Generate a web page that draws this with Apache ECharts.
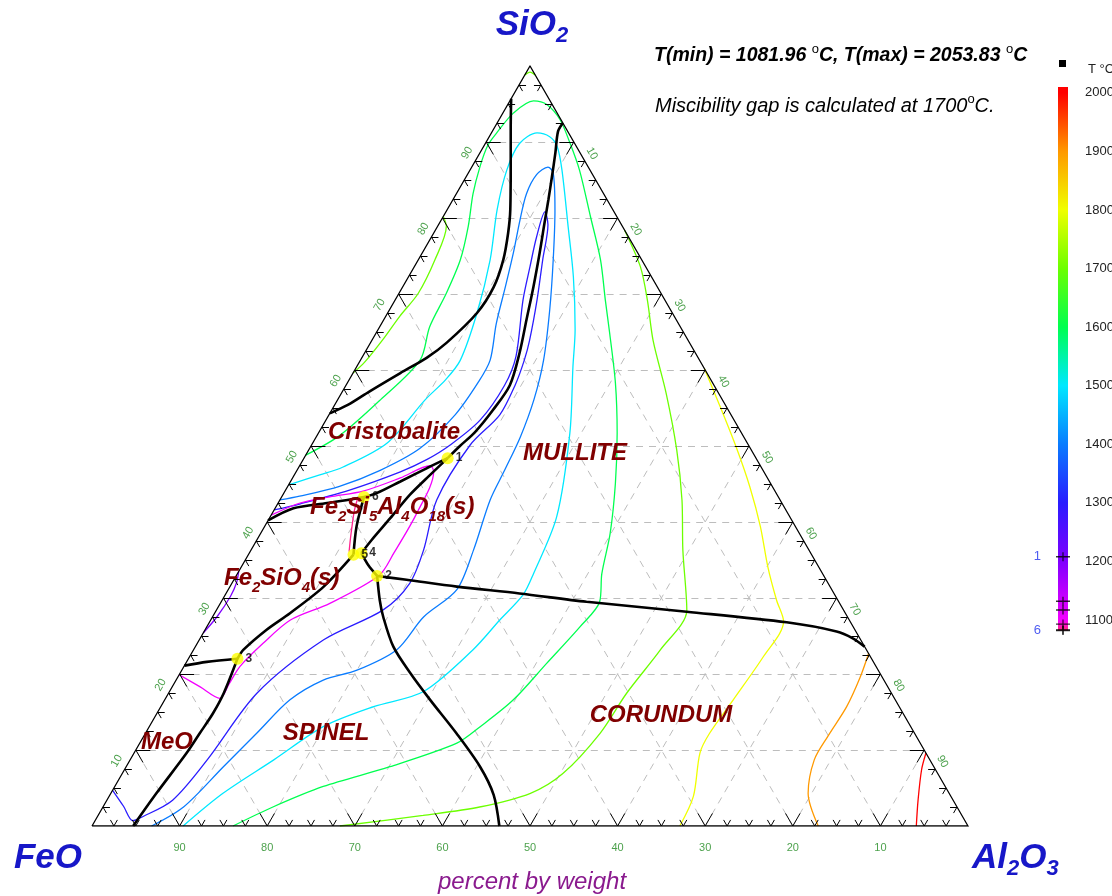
<!DOCTYPE html>
<html>
<head>
<meta charset="utf-8">
<title>FeO - SiO2 - Al2O3 liquidus projection</title>
<script src="https://cdn.jsdelivr.net/npm/echarts@6/dist/echarts.min.js"></script>
<style>
  html, body { margin: 0; padding: 0; background: #ffffff; }
  #chart { width: 1112px; height: 896px; }
</style>
</head>
<body>
<div id="chart"></div>
<script>
// Compositions are weight % written as [SiO2, Al2O3]; FeO is the balance.

// ---------- frame ----------
const gridLevels = [10, 20, 30, 40, 50, 60, 70, 80, 90];
const tickStep = 2.5;
const tickLabelValues = [10, 20, 30, 40, 50, 60, 70, 80, 90];
const leftTickLabels = ['10', '20', '30', '40', '50', '60', '70', '80', '90'];   // SiO2 along FeO-SiO2
const rightTickLabels = ['10', '20', '30', '40', '50', '60', '70', '80', '90'];  // Al2O3 along SiO2-Al2O3
const bottomTickLabels = ['90', '80', '70', '60', '50', '40', '30', '20', '10']; // FeO along FeO-Al2O3

// ---------- phase boundaries ----------
const bndSilicaGap = [[95.7, 0], [92.0, 1.8], [87.6, 4.0], [81.1, 7.2], [78.0, 8.5], [74.5, 9.7], [70.9, 10.4],
  [67.5, 10.2], [63.6, 8.7], [61.6, 7.4], [59.6, 5.4], [57.2, 3.1], [55.4, 1.5], [54.3, 0]];
const bndSilicaMullite = [[92.5, 7.5], [91.4, 7.5], [88.6, 8.6], [85.4, 9.8], [82.4, 10.9], [79.3, 12.0], [75.4, 13.4],
  [71.0, 14.9], [66.6, 16.3], [62.2, 17.7], [58.0, 18.7], [54.7, 18.4], [51.8, 17.8], [50.0, 17.0], [48.4, 16.4]];
const bnd1to6toEdge = [[48.4, 16.4], [47.1, 14.7], [45.3, 12.5], [43.8, 10.6], [43.3, 9.4], [42.5, 5.6], [41.8, 2.1], [40.2, 0]];
const bnd6to5 = [[43.3, 9.4], [39.4, 10.5], [35.7, 12.0]];
const bnd1to4 = [[48.4, 16.4], [46.2, 15.5], [43.6, 14.5], [40.5, 13.8], [37.6, 13.1], [35.9, 12.8]];
const bnd4to2 = [[35.9, 12.8], [34.3, 14.4], [32.9, 16.1]];
const bnd2toEdge = [[32.9, 16.1], [32.4, 19.7], [31.5, 25.9], [30.6, 33.5], [29.5, 41.7], [28.2, 53.8], [26.8, 65.9],
  [25.6, 72.2], [24.7, 74.5], [23.6, 76.4]];
const bnd2toBase = [[32.9, 16.1], [29.7, 18.0], [27.5, 19.5], [23.6, 22.6], [20.1, 26.3], [16.6, 30.3], [12.2, 35.5],
  [7.8, 40.4], [4.1, 43.8], [0, 46.5]];
const bnd5to3 = [[35.7, 12.0], [31.5, 10.7], [28.0, 8.6], [25.8, 7.0], [23.2, 5.7], [22.0, 5.6]];
const bnd3toEdge = [[22.0, 5.6], [21.6, 2.3], [21.1, 0]];
const bnd3toBase = [[22.0, 5.6], [17.5, 6.3], [14.8, 6.4], [12.2, 6.2], [9.6, 6.0], [4.3, 5.2], [0, 4.7]];

// ---------- invariant points ----------
const invNames = ['1', '2', '3', '4', '5', '6'];
const invComp = [[48.4, 16.4], [32.9, 16.1], [22.0, 5.6], [35.9, 12.8], [35.7, 12.0], [43.3, 9.4]];
const invTemps = [1208, 1132, 1117, 1093, 1083, 1082];

// ---------- liquidus isotherms (deg C) ----------
const iso2000 = [[9.6, 90.4], [7.4, 91.0], [3.4, 92.6], [0, 94.1]];
const iso1900 = [[22.7, 77.3], [19.6, 77.9], [15.7, 78.3], [11.8, 78.1], [8.7, 78.1], [4.3, 79.6], [0, 82.9]];
const iso1800 = [[60.2, 39.8], [55.2, 44.1], [49.5, 48.9], [44.6, 52.8], [39.4, 56.6], [34.1, 60.1], [29.7, 63.3],
  [26.9, 65.5], [22.3, 65.5], [16.6, 64.9], [12.2, 64.4], [9.6, 64.6], [3.9, 66.7], [0, 67.1]];
const iso1700 = [[78.4, 21.6], [73.6, 25.8], [69.2, 28.8], [63.9, 32.1], [56.9, 37.1], [49.5, 42.0], [42.9, 45.9],
  [36.3, 49.3], [28.4, 53.7], [23.2, 53.3], [17.5, 52.3], [12.2, 51.9], [6.9, 50.3], [4.3, 47.9], [2.5, 43.0],
  [1.4, 37.1], [0, 28.3]];
const iso1700Gap = [[80.2, 0], [78.9, 1.0], [74.5, 1.9], [70.1, 2.2], [67.1, 1.6], [64.0, 1.2], [61.0, 0.6], [59.6, 0]];
const iso1700Apex = [[98.8, 0], [99.2, 0.4], [98.8, 1.2]];
const iso1600 = [[48.8, 0], [51.4, 2.6], [56.1, 4.9], [61.3, 6.8], [65.7, 5.7], [70.1, 5.4], [74.5, 4.8], [78.9, 3.5],
  [83.2, 1.9], [86.8, 0.9], [89.6, 0.4], [91.2, 0.6], [93.8, 1.2], [95.4, 2.7], [94.9, 4.5], [92.9, 7.0], [89.9, 9.6],
  [86.3, 12.5], [80.2, 16.8], [74.5, 20.8], [69.2, 24.0], [64.8, 26.7], [58.3, 30.6], [51.7, 34.1], [45.1, 37.2],
  [38.5, 39.9], [33.2, 41.6], [29.5, 43.2], [26.2, 42.6], [21.4, 41.2], [16.6, 39.8], [13.1, 37.8], [10.9, 36.2],
  [7.8, 30.1], [5.2, 23.8], [2.5, 19.4], [0, 16.1]];
const iso1500 = [[44.9, 0], [46.2, 2.9], [47.2, 5.0], [50.4, 8.5], [56.1, 10.0], [58.7, 11.0], [61.3, 11.4],
  [67.5, 10.2], [74.5, 8.2], [81.1, 5.7], [86.3, 4.2], [89.8, 3.9], [91.2, 5.2], [90.7, 6.9], [89.4, 8.4],
  [86.3, 10.5], [78.9, 14.9], [72.3, 18.8], [65.3, 22.5], [60.4, 24.7], [51.7, 28.7], [40.7, 32.7], [33.2, 33.8],
  [30.4, 34.0], [27.1, 33.0], [23.2, 31.9], [17.7, 29.0], [15.7, 24.3], [13.1, 19.9], [8.7, 16.4], [4.3, 12.8], [0, 10.4]];
const iso1400 = [[42.9, 0], [43.4, 2.0], [44.7, 5.9], [46.8, 9.5], [49.7, 12.6], [54.1, 14.4], [58.4, 14.9],
  [61.3, 14.8], [66.1, 13.1], [71.0, 11.7], [75.4, 10.4], [79.7, 9.0], [83.2, 8.0], [85.7, 7.9], [86.7, 8.7],
  [85.9, 9.7], [81.1, 12.3], [74.5, 15.4], [67.9, 18.3], [61.3, 20.9], [56.1, 22.4], [51.2, 23.3], [46.8, 23.7],
  [42.9, 24.0], [36.3, 25.4], [31.1, 26.1], [27.5, 24.1], [23.2, 23.2], [20.5, 20.0], [19.2, 16.8], [16.6, 14.3],
  [12.2, 12.7], [7.8, 11.1], [2.5, 9.2], [0, 6.8]];
const iso1300 = [[4.7, 0], [2.6, 2.3], [0.7, 4.3], [1.1, 5.0], [3.4, 7.5], [8.7, 8.8], [17.5, 10.1], [24.5, 14.2],
  [28.4, 19.0], [31.9, 20.3], [36.3, 19.7], [42.9, 17.9], [50.1, 18.1], [54.1, 19.5], [58.0, 19.3], [61.3, 18.7],
  [63.9, 18.0], [69.2, 16.2], [74.5, 14.2], [79.1, 12.5], [80.8, 11.3], [77.5, 12.0], [73.6, 13.2], [69.2, 14.6],
  [61.8, 17.5], [58.0, 18.1], [53.4, 17.6], [50.1, 15.8], [48.2, 14.1], [46.6, 11.9], [44.2, 7.3], [42.4, 2.6], [41.6, 0]];
const iso1100 = [[40.9, 0], [42.5, 2.5], [43.3, 5.5], [44.1, 9.0], [45.8, 12.3], [47.4, 14.9], [46.6, 15.7],
  [41.1, 16.5], [35.9, 16.5], [33.0, 16.3], [29.3, 12.5], [27.1, 9.1], [24.0, 7.5], [21.0, 6.4], [18.7, 6.3],
  [16.8, 6.2], [18.3, 3.2], [19.9, 0]];
const iso1200Fayalite = [[25.4, 0], [27.5, 0.5], [30.2, 0.7], [32.0, 0.5], [33.5, 0]];
const iso1085 = [[43.0, 8.8], [41.5, 9.2], [39.6, 9.9], [37.8, 10.6], [36.1, 11.3]];

// ---------- temperature scale ----------
const tempScaleMin = 1082;
const tempScaleMax = 2010;
const tempScaleLabels = [1100, 1200, 1300, 1400, 1500, 1600, 1700, 1800, 1900, 2000];
const paletteTemps = [1082, 1092, 1100, 1200, 1300, 1400, 1500, 1600, 1700, 1800, 1900, 2000, 2010];
const paletteColors = ['#ff2a70', '#ff10d0', '#f400ff', '#8000ff', '#2a1cff', '#0a7cff', '#00e8ff', '#00ff50',
  '#6cff00', '#f0ff00', '#ff9900', '#ff0000', '#ff0000'];

// ---------- helpers ----------
const FONT = '"Liberation Sans", Arial, Helvetica, sans-serif';
function toXY(c) { return [c[1] + c[0] / 2, c[0]]; }

function hexToRgb(h) {
  return [parseInt(h.slice(1, 3), 16), parseInt(h.slice(3, 5), 16), parseInt(h.slice(5, 7), 16)];
}
function tempColor(t) {
  if (t <= paletteTemps[0]) return paletteColors[0];
  for (let i = 1; i < paletteTemps.length; i++) {
    if (t <= paletteTemps[i]) {
      const f = (t - paletteTemps[i - 1]) / (paletteTemps[i] - paletteTemps[i - 1]);
      const a = hexToRgb(paletteColors[i - 1]), b = hexToRgb(paletteColors[i]);
      const c = a.map((v, k) => Math.round(v + (b[k] - v) * f));
      return 'rgb(' + c.join(',') + ')';
    }
  }
  return paletteColors[paletteColors.length - 1];
}

const isotherms = [
  [2000, iso2000], [1900, iso1900], [1800, iso1800], [1700, iso1700], [1700, iso1700Gap], [1700, iso1700Apex],
  [1600, iso1600], [1500, iso1500], [1400, iso1400], [1300, iso1300], [1200, iso1200Fayalite], [1100, iso1100],
  [1085, iso1085]
];
const boundaries = [bndSilicaGap, bndSilicaMullite, bnd1to6toEdge, bnd6to5, bnd1to4, bnd4to2,
  bnd2toEdge, bnd2toBase, bnd5to3, bnd3toEdge, bnd3toBase];

// frame segments
const gridSegs = [];
gridLevels.forEach(function (v) {
  gridSegs.push({ coords: [toXY([v, 0]), toXY([v, 100 - v])] });
  gridSegs.push({ coords: [toXY([0, v]), toXY([100 - v, v])] });
  gridSegs.push({ coords: [toXY([0, 100 - v]), toXY([100 - v, 0])] });
});
const tickSegs = [];
for (let k = 1; k * tickStep < 100; k++) {
  const v = k * tickStep;
  const L = (k % 4 === 0) ? 1.65 : 0.8;
  tickSegs.push({ coords: [toXY([v, 0]), toXY([v, L])] });
  tickSegs.push({ coords: [toXY([v, 0]), toXY([v - L, L])] });
  tickSegs.push({ coords: [toXY([0, v]), toXY([L, v - L])] });
  tickSegs.push({ coords: [toXY([0, v]), toXY([L, v])] });
  tickSegs.push({ coords: [toXY([100 - v, v]), toXY([100 - v, v - L])] });
  tickSegs.push({ coords: [toXY([100 - v, v]), toXY([100 - v - L, v])] });
}
const edgeSeg = [{ coords: [toXY([0, 0]), toXY([0, 100]), toXY([100, 0]), toXY([0, 0])] }];

const tickLabelData = [];
tickLabelValues.forEach(function (v, i) {
  tickLabelData.push({ value: toXY([v, 0]), label: { formatter: leftTickLabels[i], rotate: 60, offset: [-19, -11] } });
  tickLabelData.push({ value: toXY([100 - v, v]), label: { formatter: rightTickLabels[i], rotate: -60, offset: [19, -10] } });
  tickLabelData.push({ value: toXY([0, v]), label: { formatter: bottomTickLabels[i], offset: [0, 22] } });
});

const series = [];
series.push({
  type: 'lines', coordinateSystem: 'cartesian2d', xAxisIndex: 0, yAxisIndex: 0, silent: true, z: 1,
  data: gridSegs, lineStyle: { color: '#bdbdbd', width: 1, type: [7, 6], opacity: 1 }
});
isotherms.forEach(function (it) {
  series.push({
    type: 'line', xAxisIndex: 0, yAxisIndex: 0, silent: true, z: 3, symbol: 'none', smooth: 0.3,
    data: it[1].map(toXY), lineStyle: { color: tempColor(it[0]), width: 1.3 }
  });
});
boundaries.forEach(function (b) {
  series.push({
    type: 'line', xAxisIndex: 0, yAxisIndex: 0, silent: true, z: 4, symbol: 'none', smooth: 0.3,
    data: b.map(toXY), lineStyle: { color: '#000000', width: 2.6 }
  });
});
series.push({
  type: 'lines', coordinateSystem: 'cartesian2d', xAxisIndex: 0, yAxisIndex: 0, silent: true, z: 5,
  data: tickSegs, lineStyle: { color: '#000000', width: 1, opacity: 1 }
});
series.push({
  type: 'lines', coordinateSystem: 'cartesian2d', polyline: true, xAxisIndex: 0, yAxisIndex: 0, silent: true, z: 5,
  data: edgeSeg, lineStyle: { color: '#000000', width: 1.3, opacity: 1 }
});
series.push({
  type: 'scatter', xAxisIndex: 0, yAxisIndex: 0, silent: true, z: 6, symbolSize: 1,
  itemStyle: { color: 'rgba(0,0,0,0)' }, data: tickLabelData,
  label: { show: true, position: 'inside', color: '#1f8a1f', fontSize: 11, fontFamily: FONT }
});
series.push({
  type: 'scatter', xAxisIndex: 0, yAxisIndex: 0, silent: true, z: 7, symbolSize: 12,
  itemStyle: { color: '#ffff00' },
  data: invComp.map(function (c, i) { return { name: invNames[i], value: toXY(c) }; }),
  label: { show: true, position: 'right', distance: 2, formatter: '{b}', color: '#000', fontWeight: 'bold', fontSize: 12, fontFamily: FONT }
});

// colour scale
const scaleStops = paletteTemps.map(function (t, i) {
  return { offset: (tempScaleMax - t) / (tempScaleMax - tempScaleMin), color: paletteColors[i] };
}).reverse();
series.push({
  type: 'custom', xAxisIndex: 1, yAxisIndex: 1, silent: true, z: 2, data: [[0, tempScaleMin]],
  renderItem: function (params, api) {
    const p0 = api.coord([0, tempScaleMax]);
    const p1 = api.coord([1, tempScaleMin]);
    return {
      type: 'rect', shape: { x: p0[0], y: p0[1], width: p1[0] - p0[0], height: p1[1] - p0[1] },
      style: { fill: new echarts.graphic.LinearGradient(0, 0, 0, 1, scaleStops) }
    };
  }
});
series.push({
  type: 'scatter', xAxisIndex: 1, yAxisIndex: 1, silent: true, z: 6,
  symbol: 'path://M0,3.4L14,3.4L14,4.6L0,4.6Z M6.4,0L7.6,0L7.6,8L6.4,8Z', symbolSize: [14, 9],
  itemStyle: { color: '#000' },
  data: invTemps.map(function (t, i) {
    const labelled = (i === 0 || i === invTemps.length - 1);
    return { name: invNames[i], value: [0.5, t], label: { show: labelled } };
  }),
  label: { position: 'left', distance: 15, formatter: '{b}', color: '#2233ee', fontSize: 13, fontFamily: FONT }
});

function subText(x, y, parts, opts) {
  const rich = {
    m: { fontSize: opts.size, lineHeight: opts.lh, fontWeight: opts.weight, fontStyle: 'italic', fontFamily: FONT, fill: opts.color },
    s: { fontSize: opts.sub, lineHeight: opts.slh, verticalAlign: 'bottom', fontWeight: opts.weight, fontStyle: 'italic', fontFamily: FONT, fill: opts.color },
    u: { fontSize: opts.sub, lineHeight: opts.slh, verticalAlign: 'top', fontWeight: 'normal', fontStyle: 'normal', fontFamily: FONT, fill: opts.color }
  };
  return {
    type: 'text', x: x, y: y, z: 20, silent: true,
    style: { text: parts, rich: rich, align: opts.align || 'left', verticalAlign: 'middle' }
  };
}
const dark = '#800000';
const fieldOpts = { size: 24, lh: 34, sub: 15, slh: 12, weight: 'bold', color: dark };

const graphics = [
  subText(532, 25, '{m|SiO}{s|2}', { size: 35, lh: 44, sub: 22, slh: 14, weight: 'bold', color: '#1717c8', align: 'center' }),
  subText(48, 858, '{m|FeO}', { size: 35, lh: 44, sub: 22, slh: 14, weight: 'bold', color: '#1717c8', align: 'center' }),
  subText(972, 858, '{m|Al}{s|2}{m|O}{s|3}', { size: 35, lh: 44, sub: 22, slh: 14, weight: 'bold', color: '#1717c8' }),
  subText(532, 882, '{m|percent by weight}', { size: 24, lh: 28, sub: 12, slh: 10, weight: 'normal', color: '#8a1a8e', align: 'center' }),
  subText(654, 56, '{m|T(min) = 1081.96 }{u|o}{m|C, T(max) = 2053.83 }{u|o}{m|C}', { size: 19.5, lh: 26, sub: 13, slh: 8, weight: 'bold', color: '#000' }),
  subText(655, 106, '{m|Miscibility gap is calculated at 1700}{u|o}{m|C.}', { size: 20, lh: 26, sub: 13, slh: 8, weight: 'normal', color: '#000' }),
  subText(394, 432, '{m|Cristobalite}', Object.assign({ align: 'center' }, fieldOpts)),
  subText(575, 453, '{m|MULLITE}', Object.assign({ align: 'center' }, fieldOpts)),
  subText(661, 715, '{m|CORUNDUM}', Object.assign({ align: 'center' }, fieldOpts)),
  subText(326, 733, '{m|SPINEL}', Object.assign({ align: 'center' }, fieldOpts)),
  subText(167, 742, '{m|MeO}', Object.assign({ align: 'center' }, fieldOpts)),
  subText(224, 578, '{m|Fe}{s|2}{m|SiO}{s|4}{m|(s)}', fieldOpts),
  subText(310, 507, '{m|Fe}{s|2}{m|Si}{s|5}{m|Al}{s|4}{m|O}{s|18}{m|(s)}', fieldOpts),
  { type: 'rect', shape: { x: 1059, y: 60, width: 7, height: 7 }, style: { fill: '#000' }, silent: true },
  { type: 'text', x: 1088, y: 69, silent: true, style: { text: 'T \u00b0C', font: '13px ' + FONT, fill: '#222', verticalAlign: 'middle' } }
];

const option = {
  animation: false,
  backgroundColor: '#ffffff',
  grid: [
    { left: 92, top: 66, width: 876, height: 760, containLabel: false, outerBoundsMode: 'none' },
    { left: 1058, top: 87, width: 10, height: 543.5, containLabel: false, outerBoundsMode: 'none' }
  ],
  xAxis: [
    { type: 'value', gridIndex: 0, min: 0, max: 100, show: false },
    { type: 'value', gridIndex: 1, min: 0, max: 1, show: false }
  ],
  yAxis: [
    { type: 'value', gridIndex: 0, min: 0, max: 100, show: false },
    {
      type: 'value', gridIndex: 1, min: tempScaleMin, max: tempScaleMax, position: 'right',
      axisLine: { show: false }, axisTick: { show: false }, splitLine: { show: false },
      axisLabel: {
        customValues: tempScaleLabels, margin: 17, color: '#222', fontSize: 13, fontFamily: FONT,
        formatter: function (v) { return String(v); }
      }
    }
  ],
  series: series,
  graphic: graphics
};

const chart = echarts.init(document.getElementById('chart'), null, { renderer: 'canvas' });
chart.setOption(option);
</script>
</body>
</html>
